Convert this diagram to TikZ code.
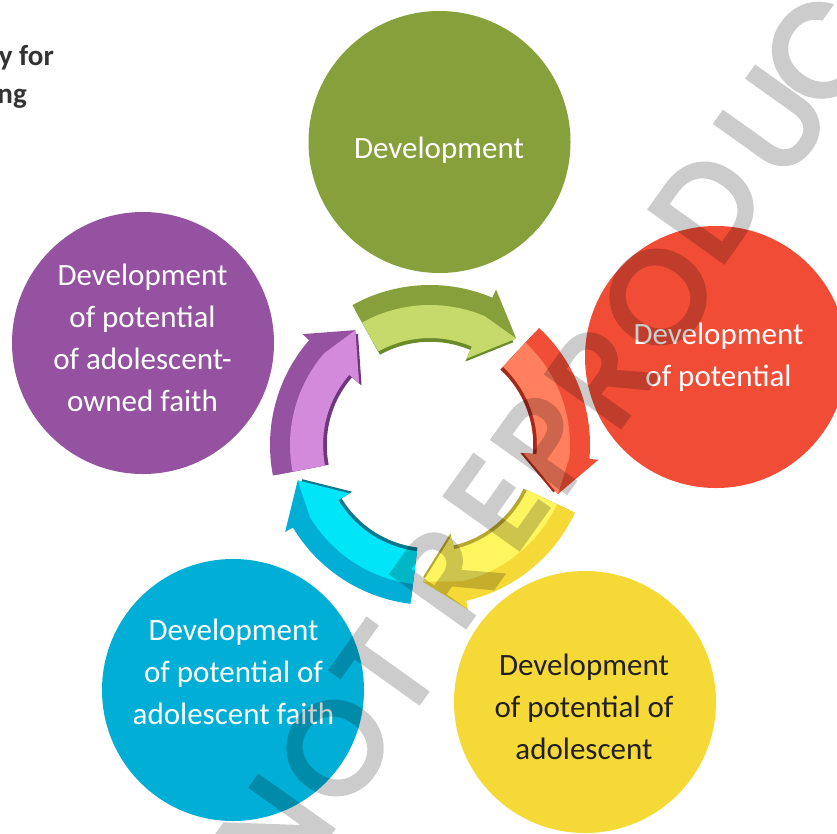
\documentclass[tikz,border=0pt]{standalone}
\usepackage{fontspec}
\setmainfont{Carlito}
\newfontfamily\wmfont[FakeBold=4.5]{Poppins}
\definecolor{cGreen}{HTML}{86A03C}
\definecolor{cRed}{HTML}{F04C36}
\definecolor{cPurple}{HTML}{9452A0}
\definecolor{cBlue}{HTML}{00AED6}
\definecolor{cYellow}{HTML}{F5DA37}
\definecolor{gDark}{HTML}{88A03B}
\definecolor{gLight}{HTML}{C5DA6B}
\definecolor{gEdge}{HTML}{6B8B2A}
\definecolor{rDark}{HTML}{F04E37}
\definecolor{rLight}{HTML}{FF7F5E}
\definecolor{rEdge}{HTML}{A3291B}
\definecolor{yDark}{HTML}{F5DA37}
\definecolor{yLight}{HTML}{FFF55F}
\definecolor{yEdge}{HTML}{B9A631}
\definecolor{bDark}{HTML}{00AED6}
\definecolor{bLight}{HTML}{00E5F7}
\definecolor{bEdge}{HTML}{0B7890}
\definecolor{pDark}{HTML}{9452A0}
\definecolor{pLight}{HTML}{D38ADA}
\definecolor{pEdge}{HTML}{6E3880}
\definecolor{titlegrey}{HTML}{333333}
\definecolor{darktext}{HTML}{231F20}
\newcommand{\ringarrow}[4]{%
  \pgfmathsetmacro\angH{#1-52}%
  \pgfmathsetmacro\angP{#1-68}%
  \begin{scope}[scale=0.965]
    \fill[#4] (#1:160) arc[start angle=#1,end angle=\angH,radius=160] -- (\angH:169) -- (\angP:137)
      -- (\angH:94) -- (\angH:107) arc[start angle=\angH,end angle=#1,radius=107] -- cycle;
  \end{scope}
  \fill[#2] (#1:160) arc[start angle=#1,end angle=\angH,radius=160] -- (\angH:169) -- (\angP:137)
      -- (\angH:94) -- (\angH:107) arc[start angle=\angH,end angle=#1,radius=107] -- cycle;
  \fill[#3] (#1:107) -- (#1:140) arc[start angle=#1,end angle=\angH,radius=140] -- (\angP:137)
      -- (\angH:94) -- (\angH:107) arc[start angle=\angH,end angle=#1,radius=107] -- cycle;
}
\tikzset{
  bubble/.style={circle, minimum size=262pt, inner sep=0pt, draw=none},
  lbl/.style={font=\fontsize{31}{42}\selectfont, align=center, anchor=base, inner sep=0pt},
  titletxt/.style={font=\fontsize{29}{38}\selectfont\bfseries, text=titlegrey, anchor=base east, inner sep=0pt},
  wmletter/.style={font=\wmfont\fontsize{128}{128}\selectfont, text=black, inner sep=0pt, rotate=54.5}
}
\begin{document}
\begin{tikzpicture}[x=1pt,y=-1pt]
\useasboundingbox (0,0) rectangle (837,833);
\clip (0,0) rectangle (837,833);
\fill[white] (0,0) rectangle (837,833);

\node[titletxt] (t1) at (54,65) {y for};
\node[titletxt] (t2) at (27,103) {ng};

\node[bubble, fill=cGreen] (c1) at (439.5,142) {};
\node[bubble, fill=cRed] (c2) at (716,357) {};
\node[bubble, fill=cYellow] (c3) at (585,702) {};
\node[bubble, fill=cBlue] (c4) at (233,690) {};
\node[bubble, fill=cPurple] (c5) at (143,343) {};

\begin{scope}[shift={(430,445)},yscale=-1]
  \ringarrow{119}{gDark}{gLight}{gEdge}
  \ringarrow{47}{rDark}{rLight}{rEdge}
  \ringarrow{-25}{yDark}{yLight}{yEdge}
  \ringarrow{-97}{bDark}{bLight}{bEdge}
  \ringarrow{-169}{pDark}{pLight}{pEdge}
\end{scope}

\node[lbl, text=white] (l1) at (439,158) {Development};
\node[lbl, text=white] (l2) at (718.5,386) {Development\\of potential};
\node[lbl, text=darktext] (l3) at (584,759) {Development\\of potential of\\adolescent};
\node[lbl, text=white] (l4) at (233.5,724) {Development\\of potential of\\adolescent faith};
\node[lbl, text=white] (l5) at (142.5,411) {Development\\of potential\\of adolescent-\\owned faith};

\begin{scope}[transparency group, opacity=0.2]
  \node[wmletter] (w1) at (275,832) {N};
  \node[wmletter] (w2) at (335,748) {O};
  \node[wmletter] (w3) at (386,671) {T};
  \node[wmletter] (w4) at (446,576) {R};
  \node[wmletter] (w5) at (496,503) {E};
  \node[wmletter] (w6) at (546,443) {P};
  \node[wmletter] (w7) at (601,376) {R};
  \node[wmletter] (w8) at (658,297) {O};
  \node[wmletter] (w9) at (708,206) {D};
  \node[wmletter] (w10) at (773,122) {U};
  \node[wmletter] (w11) at (820,51) {C};
\end{scope}
\end{tikzpicture}
\end{document}
